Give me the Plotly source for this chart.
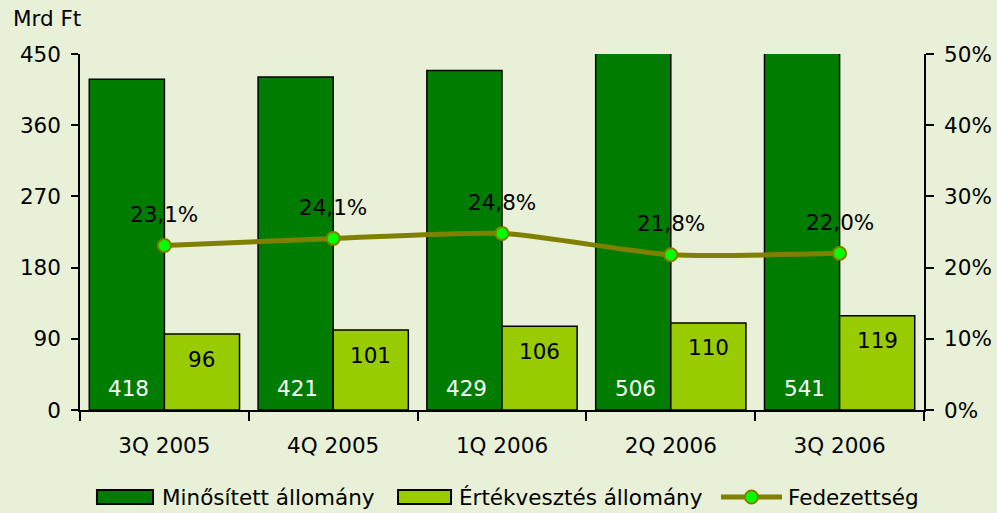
import plotly.graph_objects as go

quarters = ["3Q 2005", "4Q 2005", "1Q 2006", "2Q 2006", "3Q 2006"]
minositett = [418, 421, 429, 506, 541]
ertekvesztes = [96, 101, 106, 110, 119]
fedezettseg = [0.231, 0.241, 0.248, 0.218, 0.220]

font = "DejaVu Sans"
fs = 21.5
dark = "#007D00"
light = "#99CC00"
olive = "#808000"

bargap = 0.11
plot_w = 997 - 80 - 73
off = (1 - bargap) / 4 * plot_w / len(quarters)  # bar centre offset in px

fig = go.Figure()
fig.add_trace(go.Bar(
    x=quarters, y=minositett, name="Minősített állomány",
    marker=dict(color=dark, line=dict(color="black", width=1.5)),
))
fig.add_trace(go.Bar(
    x=quarters, y=ertekvesztes, name="Értékvesztés állomány",
    marker=dict(color=light, line=dict(color="black", width=1.5)),
))
fig.add_trace(go.Scatter(
    x=quarters, y=fedezettseg, name="Fedezettség", yaxis="y2",
    mode="lines+markers", line=dict(color=olive, width=5, shape="spline", smoothing=0.6),
    marker=dict(color="#00FF00", size=13, line=dict(color=olive, width=2)),
))

# value labels
for q, v in zip(quarters, minositett):
    fig.add_annotation(x=q, y=0, text=str(v), showarrow=False, xshift=-off + 2, yshift=22,
                       yanchor="middle", font=dict(size=fs, color="white", family=font))
for q, v in zip(quarters, ertekvesztes):
    fig.add_annotation(x=q, y=v, text=str(v), showarrow=False, xshift=off, yshift=-25,
                       yanchor="middle", font=dict(size=fs, color="black", family=font))
for q, v in zip(quarters, fedezettseg):
    fig.add_annotation(x=q, y=v, yref="y2", text=f"{v*100:.1f}%".replace(".", ","),
                       showarrow=False, yshift=31, font=dict(size=fs, color="black", family=font))

fig.add_annotation(xref="paper", yref="paper", x=0, y=1, xanchor="right", yanchor="middle",
                   xshift=3, yshift=36, text="Mrd Ft", showarrow=False,
                   font=dict(size=fs, color="black", family=font))

# custom legend (wide rectangle keys like the original)
ly = -0.2444
dy = 0.0197
legend_items = [
    (0.0201, 0.0865, dark, "Minősített állomány", 0.0948),
    (0.3768, 0.4396, light, "Értékvesztés állomány", 0.4467),
]
for x0, x1, col, label, tx in legend_items:
    fig.add_shape(type="rect", xref="paper", yref="paper", x0=x0, x1=x1, y0=ly - dy, y1=ly + dy,
                  fillcolor=col, line=dict(color="black", width=2))
    fig.add_annotation(xref="paper", yref="paper", x=tx, y=ly, xanchor="left", yanchor="middle",
                       text=label, showarrow=False, font=dict(size=fs, color="black", family=font))
fig.add_shape(type="line", xref="paper", yref="paper", x0=0.7595, x1=0.8318, y0=ly, y1=ly,
              line=dict(color=olive, width=5))
fig.add_shape(type="circle", xref="paper", yref="paper", xsizemode="pixel", ysizemode="pixel",
              xanchor=0.7956, yanchor=ly, x0=-6.5, x1=6.5, y0=-6.5, y1=6.5,
              fillcolor="#00FF00", line=dict(color=olive, width=2))
fig.add_annotation(xref="paper", yref="paper", x=0.8365, y=ly, xanchor="left", yanchor="middle",
                   text="Fedezettség", showarrow=False, font=dict(size=fs, color="black", family=font))

fig.update_layout(
    width=997, height=513,
    margin=dict(l=80, r=73, t=54, b=103),
    paper_bgcolor="#E8F0D8", plot_bgcolor="#E8F0D8",
    font=dict(family=font, size=fs, color="black"),
    barmode="group", bargap=bargap, bargroupgap=0,
    showlegend=False,
    xaxis=dict(showline=True, linecolor="black", linewidth=1.5, ticks="outside",
               tickson="boundaries", ticklen=9, tickcolor="black", tickwidth=1.5,
               showgrid=False, tickfont=dict(size=fs), ticklabelstandoff=15, automargin=False),
    yaxis=dict(range=[0, 450], dtick=90, showline=True, linecolor="black", linewidth=1.5,
               ticks="outside", ticklen=7, tickcolor="black", tickwidth=1.5,
               showgrid=False, zeroline=False, tickfont=dict(size=fs), ticklabelstandoff=6,
               automargin=False),
    yaxis2=dict(range=[0, 0.5], dtick=0.1, tickformat=".0%", overlaying="y", side="right",
                showline=True, linecolor="black", linewidth=1.5,
                ticks="outside", ticklen=8, tickcolor="black", tickwidth=1.5,
                showgrid=False, zeroline=False, tickfont=dict(size=fs), ticklabelstandoff=6,
                automargin=False),
)

fig.write_html("out.html", config={"displayModeBar": False},
               post_script="document.body.style.margin='0';document.body.style.overflow='hidden';")
